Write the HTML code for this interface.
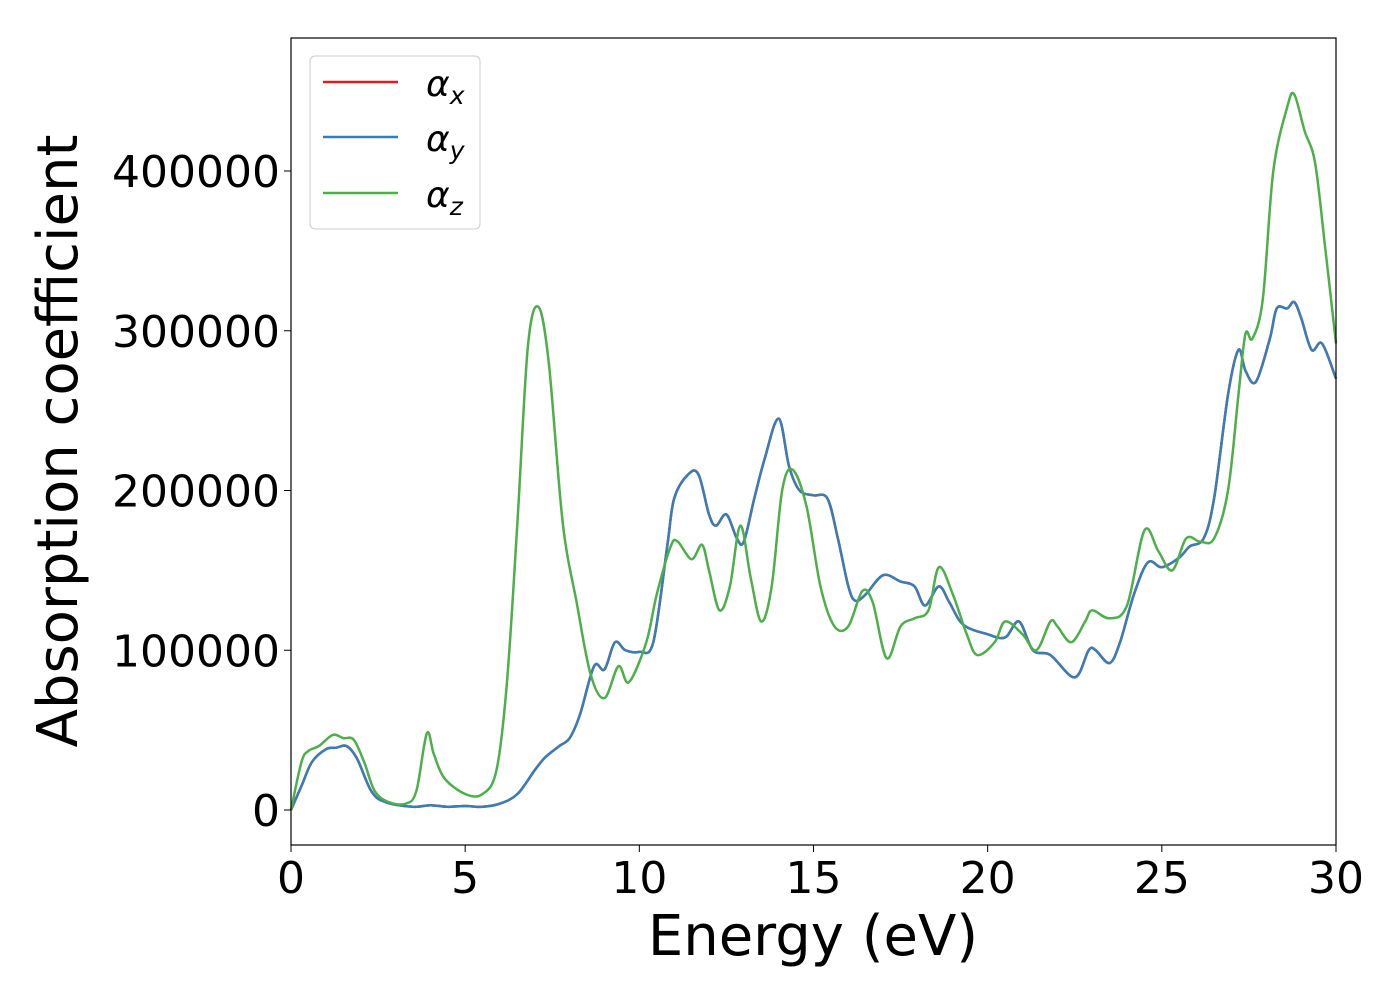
<!DOCTYPE html>
<html><head><meta charset="utf-8"><style>
body{margin:0;background:#fff;font-family:"Liberation Sans","DejaVu Sans",sans-serif}
</style></head><body>
<svg width="1400" height="1000" xmlns="http://www.w3.org/2000/svg" font-family="DejaVu Sans, Liberation Sans, sans-serif">
<rect width="1400" height="1000" fill="#fff"/>
<g id="series"></g>
<rect x="291" y="38" width="1045" height="807" fill="none" stroke="#000" stroke-width="1.2"/>
<g id="xticks"></g><g id="yticks"></g>
<text x="813" y="955" font-size="56" text-anchor="middle">Energy (eV)</text>
<text transform="translate(77,441) rotate(-90)" font-size="56" text-anchor="middle">Absorption coefficient</text>
<g>
<rect x="310" y="56" width="170" height="173" rx="5" fill="#fff" fill-opacity="0.8" stroke="#ccc"/>
<g><line x1="323" y1="82" x2="398" y2="82" stroke="#e41a1c" stroke-width="2.5"/><text x="426" y="96" font-size="36" font-style="italic">α<tspan font-size="25" dy="8">x</tspan></text></g>
<g><line x1="323" y1="137" x2="398" y2="137" stroke="#377eb8" stroke-width="2.5"/><text x="426" y="151" font-size="36" font-style="italic">α<tspan font-size="25" dy="8">y</tspan></text></g>
<g><line x1="323" y1="193" x2="398" y2="193" stroke="#4daf4a" stroke-width="2.5"/><text x="426" y="207" font-size="36" font-style="italic">α<tspan font-size="25" dy="8">z</tspan></text></g>
</g>
</svg>
<script>
const xTicks=[0,5,10,15,20,25,30];
const yTicks=[0,100000,200000,300000,400000];
const energyXY=[0,0.3,0.6,1,1.3,1.6,1.9,2.3,2.7,3.5,4,4.5,5,5.5,6,6.5,7,7.3,7.7,8,8.3,8.7,9,9.3,9.6,10,10.4,10.8,11,11.4,11.7,12,12.2,12.5,12.8,13,13.3,13.6,14,14.3,14.6,15,15.4,15.7,16,16.2,16.5,17,17.5,17.9,18.2,18.6,18.9,19.3,20,20.5,20.9,21.3,21.8,22.5,22.9,23.1,23.5,23.8,24.2,24.6,25,25.5,25.8,26.2,26.5,26.9,27.2,27.4,27.7,28.1,28.3,28.6,28.8,29,29.3,29.6,30];
const alphaXY=[0,15,30,38,39,40,32,12,5,2,3,2,2.5,2,4,10,25,33,40,45,60,90,88,105,100,99,105,165,195,210,210,185,178,185,170,168,195,220,245,215,200,197,195,170,140,131,135,147,143,140,128,140,130,116,110,108,118,100,97,83,100,100,92,105,135,155,152,158,165,170,195,260,288,275,268,295,314,314,318,308,288,292,270];
const energyZ=[0,0.3,0.5,0.8,1.2,1.5,1.8,2.1,2.4,2.8,3.3,3.6,3.9,4.1,4.4,5,5.5,5.9,6.2,6.5,6.8,7.1,7.4,7.8,8.2,8.6,9,9.4,9.7,10.2,10.5,10.9,11.1,11.5,11.8,12,12.3,12.6,12.9,13.2,13.5,13.8,14.1,14.4,14.8,15.2,15.6,16,16.4,16.7,17.1,17.5,17.9,18.3,18.6,19,19.4,19.7,20.2,20.5,21,21.4,21.8,22,22.4,22.8,23,23.5,24,24.5,24.9,25.3,25.7,26.1,26.5,26.9,27.2,27.4,27.6,27.9,28.2,28.6,28.8,29.1,29.4,29.7,30];
const alphaZ=[0,30,37,40,47,45,44,30,12,5,4,12,48,35,20,10,10,25,80,180,290,315,280,180,130,85,70,90,80,105,135,165,168,157,166,150,125,140,178,145,118,140,200,213,190,140,115,115,137,130,95,115,120,125,152,135,110,97,105,118,110,100,118,115,105,118,125,120,128,175,162,150,170,168,170,200,260,298,295,320,400,440,448,425,405,350,292];
const X=e=>291+e*(1045/30);
const Y=v=>810-v*(639/400000);
const NS='http://www.w3.org/2000/svg';
function path(xs,vs){
  const p=xs.map((e,i)=>[X(e),Y(vs[i]*1000)]);
  let d='M'+p[0][0]+','+p[0][1];
  for(let i=0;i<p.length-1;i++){
    const p0=p[Math.max(0,i-1)],p1=p[i],p2=p[i+1],p3=p[Math.min(p.length-1,i+2)];
    const c1=[p1[0]+(p2[0]-p0[0])/6,p1[1]+(p2[1]-p0[1])/6];
    const c2=[p2[0]-(p3[0]-p1[0])/6,p2[1]-(p3[1]-p1[1])/6];
    d+=`C${c1[0]},${c1[1]} ${c2[0]},${c2[1]} ${p2[0]},${p2[1]}`;
  }
  return d;
}
const g=document.getElementById('series');
function addLine(d,col,name){
  const el=document.createElementNS(NS,'path');
  el.setAttribute('d',d);el.setAttribute('fill','none');el.setAttribute('stroke',col);el.setAttribute('stroke-width','2.5');
  
  
  g.appendChild(el);
}
addLine(path(energyXY,alphaXY),'#e41a1c','series-alpha-x');
addLine(path(energyXY,alphaXY),'#377eb8','series-alpha-y');
addLine(path(energyZ,alphaZ),'#4daf4a','series-alpha-z');
const xt=document.getElementById('xticks');
xTicks.forEach(t=>{
  const l=document.createElementNS(NS,'line');
  l.setAttribute('x1',X(t));l.setAttribute('x2',X(t));l.setAttribute('y1',845);l.setAttribute('y2',852);l.setAttribute('stroke','#000');
  
  
  xt.appendChild(l);
  const s=document.createElementNS(NS,'text');
  s.setAttribute('x',X(t));s.setAttribute('y',893);s.setAttribute('font-size','44');s.setAttribute('text-anchor','middle');
  s.textContent=t;
  
  
  xt.appendChild(s);
});
const yt=document.getElementById('yticks');
yTicks.forEach(t=>{
  const l=document.createElementNS(NS,'line');
  l.setAttribute('x1',284);l.setAttribute('x2',291);l.setAttribute('y1',Y(t));l.setAttribute('y2',Y(t));l.setAttribute('stroke','#000');
  
  
  yt.appendChild(l);
  const s=document.createElementNS(NS,'text');
  s.setAttribute('x',280);s.setAttribute('y',Y(t)+16);s.setAttribute('font-size','44');s.setAttribute('text-anchor','end');
  s.textContent=t;
  
  
  yt.appendChild(s);
});
</script>
</body></html>
